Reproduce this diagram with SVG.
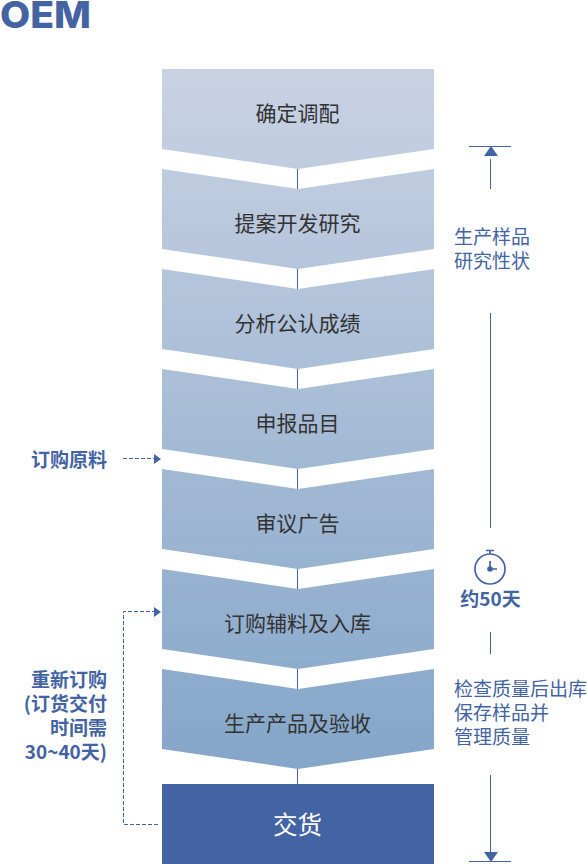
<svg xmlns="http://www.w3.org/2000/svg" width="587" height="864" viewBox="0 0 587 864">
<style>
text{font-family:"Noto Sans CJK SC","Noto Sans",sans-serif}
.step{fill:url(#g)}
.lb{font-size:21px;fill:#333;text-anchor:middle}
.bl{font-size:19px;fill:#4463a3}
.blb{font-size:19px;fill:#4463a3;font-weight:700}
.ln{stroke:#4463a3;stroke-width:1;fill:none}
.ck{stroke:#4463a3;stroke-width:1.700;fill:none}
.da{stroke:#4463a3;stroke-width:1;fill:none;stroke-dasharray:4 2}
.ar{fill:#4463a3}
</style>
<defs>
<linearGradient id="g" gradientUnits="userSpaceOnUse" x1="0" y1="69" x2="0" y2="769"><stop offset="0" stop-color="#c9d2e3"/><stop offset="1" stop-color="#84a6c9"/></linearGradient>
</defs>
<g id="title"><text x="0" y="28" font-size="37" font-weight="800" fill="#4463a3" style="font-family:Inter,sans-serif" textLength="91" lengthAdjust="spacingAndGlyphs">OEM</text></g>
<g id="connectors">
<path class="ln" d="M297.500 169V189M297.500 269V289M297.500 369V389M297.500 469V489M297.500 569V589M297.500 669V689M297.500 769V784"/>
<path class="ln" d="M490.500 159V189M469 146.500H511M490.500 313V528M490.500 632V654M490.500 775V855M469 861.500H511"/>
<path class="ar" d="M491 146L484 156H498Z"/>
<path class="ar" d="M491 862L484 852H498Z"/>
<path class="da" d="M123 458.500H155"/>
<path class="ar" d="M161 459L154 454V464Z"/>
<path class="da" d="M158 824.500H123.500V611.500H155"/>
<path class="ar" d="M161 612L154 607V617Z"/>
</g>
<g id="n1"><path class="step" d="M162 69H434V149L298 169L162 149Z"/><text class="lb" x="297.500" y="121">确定调配</text></g>
<g id="n2"><path class="step" d="M162 169L298 189L434 169V249L298 269L162 249Z"/><text class="lb" x="297.500" y="231">提案开发研究</text></g>
<g id="n3"><path class="step" d="M162 269L298 289L434 269V349L298 369L162 349Z"/><text class="lb" x="297.500" y="331">分析公认成绩</text></g>
<g id="n4"><path class="step" d="M162 369L298 389L434 369V449L298 469L162 449Z"/><text class="lb" x="297.500" y="431">申报品目</text></g>
<g id="n5"><path class="step" d="M162 469L298 489L434 469V549L298 569L162 549Z"/><text class="lb" x="297.500" y="531">审议广告</text></g>
<g id="n6"><path class="step" d="M162 569L298 589L434 569V649L298 669L162 649Z"/><text class="lb" x="297.500" y="631">订购辅料及入库</text></g>
<g id="n7"><path class="step" d="M162 669L298 689L434 669V749L298 769L162 749Z"/><text class="lb" x="297.500" y="731">生产产品及验收</text></g>
<g id="n8"><rect x="162" y="784" width="272" height="80" fill="#4463a3"/><text x="297.500" y="834" font-size="24.500" fill="#fff" text-anchor="middle">交货</text></g>
<g id="note-sample"><text class="bl" x="454" y="244">生产样品</text><text class="bl" x="454" y="268">研究性状</text></g>
<g id="clock">
<circle cx="490" cy="569" r="15" class="ck"/>
<path class="ck" d="M486 550.500H494M490 551V554"/>
<path class="ck" d="M490 561V569H497"/>
<circle cx="490" cy="569" r="2.800" class="ar"/>
</g>
<g id="note-days"><text class="blb" x="490.500" y="606" text-anchor="middle">约50天</text></g>
<g id="note-check"><text class="bl" x="454" y="696">检查质量后出库</text><text class="bl" x="454" y="720">保存样品并</text><text class="bl" x="454" y="744">管理质量</text></g>
<g id="note-order"><text class="blb" x="107" y="467" text-anchor="end">订购原料</text></g>
<g id="note-reorder" text-anchor="end">
<text class="blb" x="107" y="687">重新订购</text>
<text class="blb" x="107" y="711">(订货交付</text>
<text class="blb" x="107" y="735">时间需</text>
<text class="blb" x="107" y="759">30~40天)</text>
</g>
</svg>
